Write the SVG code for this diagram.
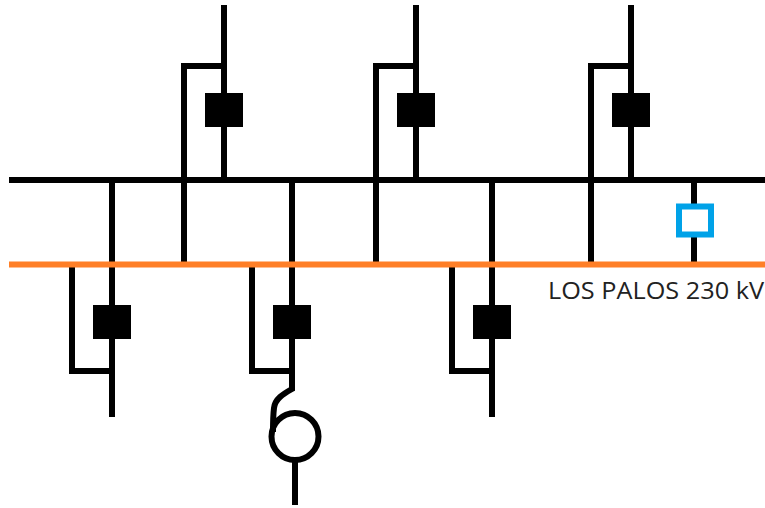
<svg xmlns="http://www.w3.org/2000/svg" width="765" height="508" viewBox="0 0 765 508">
<style>
.w{fill:none;stroke:#000;stroke-width:6}
.t{fill:none;stroke:#000;stroke-width:6}
.b{fill:#000}
.o{fill:none;stroke:#FF7F27;stroke-width:6}
.l{font-family:"Open Sans","Liberation Sans",sans-serif;font-size:23px;fill:#222}
</style>
<rect width="765" height="508" fill="#fff"/>
<g id="connectors">
<path class="w" d="M9 180H765"/>
<path class="w" d="M224 5V180M224 66H184V264"/>
<path class="w" d="M416 5V180M416 66H376V264"/>
<path class="w" d="M631 5V180M631 66H591V264"/>
<path class="w" d="M112 180V417M112 371H72V264"/>
<path class="w" d="M292 180V386M292 371H252V264"/>
<path class="w" d="M492 180V417M492 371H452V264"/>
<path class="w" d="M694 180V264"/>
<path class="t" d="M292 384V389C283 394 275 399 274 408C273 416 273 424 273 432"/>
<path class="w" d="M295 462V505"/>
</g>
<g id="bus-230"><path class="o" d="M9 264.500H765"/></g>
<g id="breaker-top-1"><rect class="b" x="205" y="93" width="38" height="34"/></g>
<g id="breaker-top-2"><rect class="b" x="397" y="93" width="38" height="34"/></g>
<g id="breaker-top-3"><rect class="b" x="612" y="93" width="38" height="34"/></g>
<g id="breaker-bottom-1"><rect class="b" x="93" y="305" width="38" height="34"/></g>
<g id="breaker-bottom-2"><rect class="b" x="273" y="305" width="38" height="34"/></g>
<g id="breaker-bottom-3"><rect class="b" x="473" y="305" width="38" height="34"/></g>
<g id="breaker-open"><rect x="679" y="206.500" width="32" height="28" fill="#fff" stroke="#00A2E8" stroke-width="6"/></g>
<g id="transformer"><circle class="t" cx="295" cy="436.500" r="23.500"/></g>
<g id="label"><text class="l" x="548" y="299" textLength="216" lengthAdjust="spacingAndGlyphs">LOS PALOS 230 kV</text></g>
</svg>
